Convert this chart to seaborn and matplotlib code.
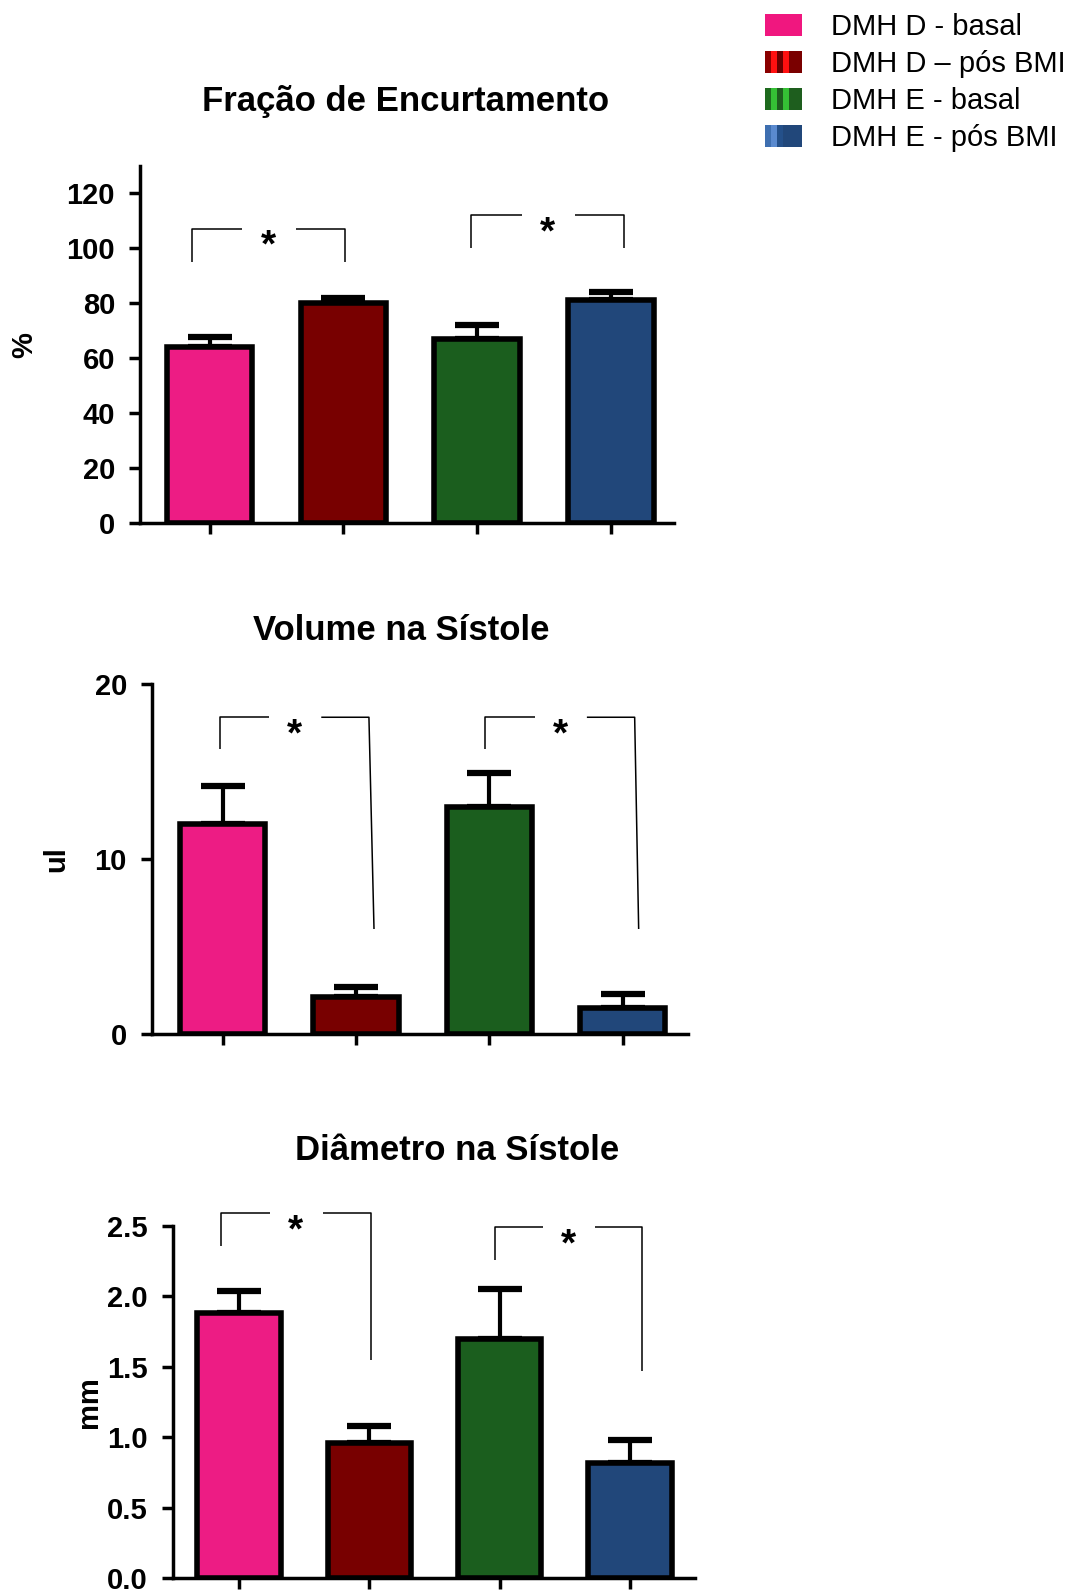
import matplotlib
matplotlib.use("Agg")
import matplotlib.pyplot as plt
import seaborn as sns
import pandas as pd
import numpy as np
from matplotlib.patches import Rectangle
from matplotlib.legend_handler import HandlerBase

# ---------------- data ----------------
groups = ["DMH D - basal", "DMH D \u2013 pós BMI", "DMH E - basal", "DMH E - pós BMI"]
colors = ["#ED1C84", "#780000", "#1B5E1E", "#21477A"]

fs_mean = [64, 80, 67, 81]
fs_err = [3.5, 2.0, 5.0, 3.0]

vs_mean = [12.0, 2.1, 13.0, 1.5]
vs_err = [2.2, 0.6, 1.9, 0.8]

ds_mean = [1.88, 0.96, 1.70, 0.82]
ds_err = [0.16, 0.12, 0.35, 0.16]

titles = ["Fração de Encurtamento", "Volume na Sístole", "Diâmetro na Sístole"]
ylabels = ["%", "ul", "mm"]
yticks_list = [[0, 20, 40, 60, 80, 100, 120], [0, 10, 20], [0.0, 0.5, 1.0, 1.5, 2.0, 2.5]]
ytick_fmt = ["{:.0f}", "{:.0f}", "{:.1f}"]
ylims = [(0, 130), (0, 20), (0, 2.5)]

# significance brackets: (x_left, x_right, y_top, y_left_end, y_right_end, x_right_end)
brackets = [
    [(-0.135, 1.013, 107, 95, 95, 1.013), (1.955, 3.10, 112, 100, 100, 3.10)],
    [(-0.02, 1.097, 18.1, 16.3, 6.0, 1.135), (1.97, 3.09, 18.1, 16.3, 6.0, 3.12)],
    [(-0.14, 1.01, 2.59, 2.36, 1.55, 1.01), (1.963, 3.09, 2.49, 2.26, 1.47, 3.09)],
]

W, H = 1075, 1593
sns.set_theme(style="white")
plt.rcParams["font.family"] = ["Liberation Sans", "DejaVu Sans"]
plt.rcParams["text.color"] = "black"
plt.rcParams["axes.labelcolor"] = "black"
plt.rcParams["xtick.color"] = "black"
plt.rcParams["ytick.color"] = "black"

fig = plt.figure(figsize=(W / 100, H / 100), dpi=100)

# axes rectangles in pixel coords (left, right, top, bottom)
rects = [(140, 674, 165.6, 523), (152, 688, 684, 1034), (172.7, 695, 1226, 1578)]
xlims = [(-0.52, 3.47), (-0.53, 3.49), (-0.51, 3.50)]
title_pos = [(406, 101.6), (401, 630), (457, 1150)]
ylabel_pos = [(24, 345), (56, 859), (89, 1402)]

means = [fs_mean, vs_mean, ds_mean]
errs = [fs_err, vs_err, ds_err]

for i in range(3):
    l, r, t, b = rects[i]
    ax = fig.add_axes([l / W, 1 - b / H, (r - l) / W, (b - t) / H])
    df = pd.DataFrame({"grupo": groups, "valor": means[i]})
    ax.errorbar(np.arange(4), means[i], yerr=[np.zeros(4), errs[i]], fmt="none",
                ecolor="black", elinewidth=3, capsize=16, capthick=4.5, zorder=1)
    sns.barplot(data=df, x="grupo", y="valor", hue="grupo", order=groups,
                hue_order=groups, palette=colors, width=0.64, edgecolor="black",
                linewidth=4, legend=False, ax=ax, zorder=2, saturation=1)
    ax.set_xlim(*xlims[i])
    ax.set_ylim(*ylims[i])
    ax.set_yticks(yticks_list[i])
    ax.set_yticklabels([ytick_fmt[i].format(v) for v in yticks_list[i]],
                       fontsize=21, fontweight="bold")
    ax.set_xticks(range(4))
    ax.set_xticklabels([])
    ax.set_xlabel("")
    ax.set_ylabel("")
    for s in ["top", "right"]:
        ax.spines[s].set_visible(False)
    for s in ["left", "bottom"]:
        ax.spines[s].set_linewidth(2.5)
        ax.spines[s].set_color("black")
    ax.tick_params(axis="both", direction="out", length=8, width=2.5, color="black",
                   left=True, bottom=True, pad=10)
    ax.tick_params(axis="x", pad=4)
    ax.set_facecolor("none")

    for (xl, xr, yt, yl, yr, xre) in brackets[i]:
        span = xr - xl
        g0 = xl + 0.33 * span
        g1 = xl + 0.68 * span
        kw = dict(color="black", lw=1.1, clip_on=False, solid_capstyle="butt")
        ax.plot([xl, xl, g0], [yl, yt, yt], **kw)
        ax.plot([g1, xr, xre], [yt, yt, yr], **kw)
        ax.text(xl + 0.5 * span, yt, "*", ha="center", va="top", fontsize=28,
                fontweight="bold", clip_on=False)

    tx, ty = title_pos[i]
    fig.text(tx / W, 1 - ty / H, titles[i], ha="center", va="center",
             fontsize=25, fontweight="bold")
    lx, ly = ylabel_pos[i]
    fig.text(lx / W, 1 - ly / H, ylabels[i], ha="center", va="center",
             rotation=90, fontsize=21, fontweight="bold")


# legend with striped swatches
class StripeHandler(HandlerBase):
    def __init__(self, stripes):
        super().__init__()
        self.stripes = stripes

    def create_artists(self, legend, orig_handle, xdescent, ydescent, width,
                       height, fontsize, trans):
        arts = []
        n = len(self.stripes)
        w = width / n
        for k, c in enumerate(self.stripes):
            arts.append(Rectangle((-xdescent + k * w, -ydescent), w * 1.02, height,
                                  facecolor=c, edgecolor="none", transform=trans))
        return arts


stripe_sets = [
    ["#F0177F"] * 6,
    ["#8A0000", "#FF1010", "#6A0000", "#FF1010", "#7A0000", "#7A0000"],
    ["#1E6A1E", "#35C035", "#1E5E1E", "#35C035", "#1E5E1E", "#1E5E1E"],
    ["#3E6FB0", "#5A8ACF", "#24508A", "#21477A", "#21477A", "#21477A"],
]
handles = [Rectangle((0, 0), 1, 1, facecolor=c) for c in colors]
hmap = {h: StripeHandler(s) for h, s in zip(handles, stripe_sets)}
fig.legend(handles, groups, handler_map=hmap, loc="upper left",
           bbox_to_anchor=(765 / W, 1 - 13 / H), frameon=False, fontsize=21,
           handlelength=1.25, handleheight=0.8, handletextpad=1.0,
           labelspacing=0.31, borderpad=0, borderaxespad=0)

fig.savefig("out.png", dpi=100)
